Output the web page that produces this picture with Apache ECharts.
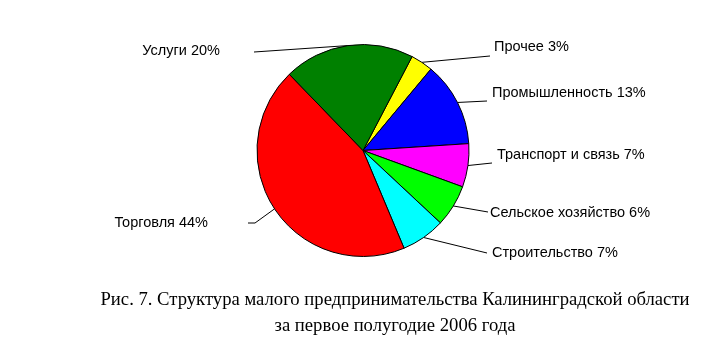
<!DOCTYPE html>
<html><head><meta charset="utf-8">
<script src="https://cdn.jsdelivr.net/npm/echarts@6/dist/echarts.min.js"></script>
<style>html,body{margin:0;padding:0;background:#fff}#c{width:714px;height:342px}</style>
</head><body><div id="c"></div>
<script>
// ---- data ----
const categories = ['Прочее', 'Промышленность', 'Транспорт и связь', 'Сельское хозяйство', 'Строительство', 'Торговля', 'Услуги'];
const shares = [3.4, 12.9, 6.6, 6.4, 6.7, 44.1, 19.9];
const captionLines = ['Рис. 7. Структура малого предпринимательства Калининградской области', 'за первое полугодие 2006 года'];

// ---- styles / layout ----
const sliceColors = ['#FFFF00', '#0000FF', '#FF00FF', '#00FF00', '#00FFFF', '#FF0000', '#008000'];
const labelPlacement = [
  { x: 494, y: 46.5, align: 'left',  knee: [490, 56],  end: [490, 56] },
  { x: 492, y: 93,   align: 'left',  knee: [487, 101], end: [487, 101] },
  { x: 497, y: 155,  align: 'left',  knee: [492, 163], end: [492, 163] },
  { x: 490, y: 213,  align: 'left',  knee: [488, 212], end: [488, 212] },
  { x: 492, y: 252.5,align: 'left',  knee: [487, 253], end: [487, 253] },
  { x: 208, y: 222.5,align: 'right', knee: [255, 223], end: [248, 223] },
  { x: 220, y: 50.5, align: 'right', knee: [254, 52],  end: [254, 52] }
];

const chart = echarts.init(document.getElementById('c'), null, { renderer: 'canvas' });
chart.setOption({
  animation: false,
  backgroundColor: '#fff',
  graphic: [{
    type: 'text',
    x: 395, y: 313,
    silent: true,
    style: {
      text: captionLines.join('\n'),
      x: 0, y: 0,
      align: 'center',
      verticalAlign: 'middle',
      font: '18.67px "Times New Roman", "Liberation Serif", serif',
      lineHeight: 26,
      fill: '#000'
    }
  }],
  series: [{
    type: 'pie',
    center: [363, 150.5],
    radius: 106,
    startAngle: 62.4,
    clockwise: true,
    avoidLabelOverlap: false,
    emphasis: { disabled: true },
    itemStyle: { borderColor: '#000', borderWidth: 1 },
    label: {
      show: true,
      position: 'outside',
      formatter: p => p.name + ' ' + Math.round(p.percent) + '%',
      fontFamily: 'Arial, "Liberation Sans", sans-serif',
      fontSize: 14.5,
      color: '#000'
    },
    labelLine: { show: true, length: 10, length2: 5, lineStyle: { color: '#000', width: 1 } },
    labelLayout: function (params) {
      const p = labelPlacement[params.dataIndex];
      const res = { x: p.x, y: p.y, align: p.align, verticalAlign: 'middle' };
      if (params.labelLinePoints) {
        res.labelLinePoints = [params.labelLinePoints[0], p.knee, p.end];
      }
      return res;
    },
    data: categories.map((n, i) => ({ name: n, value: shares[i], itemStyle: { color: sliceColors[i] } }))
  }]
});
</script>
</body></html>
